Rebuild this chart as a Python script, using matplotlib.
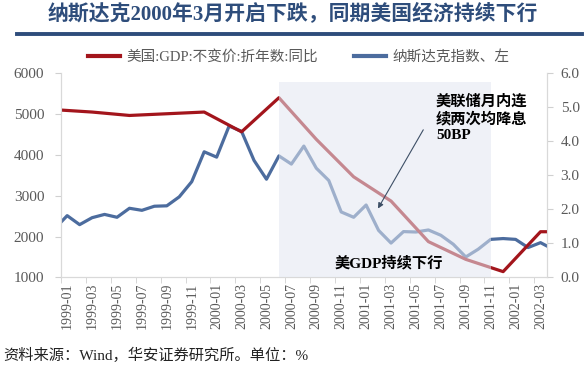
import matplotlib
matplotlib.use('Agg')
import matplotlib.pyplot as plt
from matplotlib.lines import Line2D

FONTS = ['Liberation Serif', 'Noto Sans CJK SC', 'DejaVu Sans']
plt.rcParams['font.family'] = FONTS

# monthly Nasdaq closes (left axis), 1998-12 .. 2002-04 (ends are clipped at the axes)
nasdaq_months = ['1998-12',
                 '1999-01', '1999-02', '1999-03', '1999-04', '1999-05', '1999-06',
                 '1999-07', '1999-08', '1999-09', '1999-10', '1999-11', '1999-12',
                 '2000-01', '2000-02', '2000-03', '2000-04', '2000-05', '2000-06',
                 '2000-07', '2000-08', '2000-09', '2000-10', '2000-11', '2000-12',
                 '2001-01', '2001-02', '2001-03', '2001-04', '2001-05', '2001-06',
                 '2001-07', '2001-08', '2001-09', '2001-10', '2001-11', '2001-12',
                 '2002-01', '2002-02', '2002-03', '2002-04']
nasdaq = [2190,
          2510, 2290, 2460, 2540, 2470, 2690, 2640, 2740, 2750, 2970, 3340, 4070,
          3940, 4700, 4570, 3860, 3400, 3970, 3770, 4210, 3670, 3370, 2600, 2470,
          2770, 2150, 1840, 2120, 2110, 2160, 2030, 1810, 1500, 1690, 1930, 1950,
          1930, 1730, 1850, 1690]

# US real GDP yoy, quarterly (right axis)
gdp_months = ['1998-12', '1999-03', '1999-06', '1999-09', '1999-12',
              '2000-03', '2000-06', '2000-09', '2000-12',
              '2001-03', '2001-06', '2001-09', '2001-12',
              '2002-03', '2002-04']
gdp = [4.92, 4.85, 4.75, 4.80, 4.85,
       4.27, 5.27, 4.05, 2.95,
       2.24, 1.05, 0.53, 0.17,
       1.34, 1.34]

tick_labels = ['1999-01', '1999-03', '1999-05', '1999-07', '1999-09', '1999-11',
               '2000-01', '2000-03', '2000-05', '2000-07', '2000-09', '2000-11',
               '2001-01', '2001-03', '2001-05', '2001-07', '2001-09', '2001-11',
               '2002-01', '2002-03']

shade_start, shade_end = '2000-06', '2001-11'


def month_pos(m):
    y, mo = m.split('-')
    return (int(y) - 1999) * 12 + int(mo) - 1


RED = '#a3151c'
BLUE = '#4c6c9e'
GRAY = '#595959'

fig = plt.figure(figsize=(5.86, 3.66), dpi=100)
ax = fig.add_axes([0.104, 0.242, 0.829, 0.559])
ax2 = ax.twinx()

ax.plot([month_pos(m) for m in nasdaq_months], nasdaq, color=BLUE, lw=2.3,
        solid_joinstyle='round')
ax2.plot([month_pos(m) for m in gdp_months], gdp, color=RED, lw=2.3,
         solid_joinstyle='round')

# shaded period drawn over the lines
ax2.axvspan(month_pos(shade_start), month_pos(shade_end), ymin=0, ymax=0.956,
            color='#e2e7f1', alpha=0.55, lw=0, zorder=5)

ax.set_xlim(-0.5, 38.5)
ax.set_ylim(1000, 6000)
ax2.set_ylim(0, 6)
ax.set_yticks(range(1000, 6001, 1000))
ax2.set_yticks([0, 1, 2, 3, 4, 5, 6])
ax2.set_yticklabels(['%.1f' % v for v in range(7)])

ax.set_xticks([month_pos(t) for t in tick_labels])
ax.set_xticklabels(tick_labels, rotation=90)
ax.set_xticks([x - 0.5 for x in range(0, 40, 2)], minor=True)
ax.tick_params(axis='x', which='major', length=0, pad=4, labelsize=10, labelcolor=GRAY)
ax.tick_params(axis='x', which='minor', length=4, color='#d0d0d0')
ax.tick_params(axis='y', length=4, pad=8, color='#d0d0d0', labelsize=11, labelcolor=GRAY)
ax2.tick_params(axis='y', length=4, pad=6, color='#d0d0d0', labelsize=11, labelcolor=GRAY)

for a in (ax, ax2):
    a.spines['top'].set_visible(False)
    for s in ('left', 'right', 'bottom'):
        a.spines[s].set_color('#d9d9d9')

# annotations
ax2.annotate('', xy=(24.84, 1.95), xytext=(28.7, 4.4),
             arrowprops=dict(arrowstyle='-|>', color='#3d4f66', lw=0.8,
                             mutation_scale=8), zorder=7)
ax2.text(29.6, 5.38, '美联储月内连\n续两次均降息\n50BP', fontsize=11, fontweight='bold',
         va='top', ha='left', linespacing=1.25, zorder=8)
ax2.text(21.5, 0.43, '美GDP持续下行', fontsize=11, fontweight='bold',
         va='center', ha='left', zorder=8)

# legend
handles = [Line2D([], [], color=RED, lw=3), Line2D([], [], color=BLUE, lw=3)]
fig.legend(handles, ['美国:GDP:不变价:折年数:同比', '纳斯达克指数、左'],
           loc='center', bbox_to_anchor=(0.51, 0.844), ncol=2, frameon=False,
           fontsize=10.5, labelcolor=GRAY, handlelength=2.2, columnspacing=2.5,
           handletextpad=0.4)

# title and bar
fig.text(0.5, 1 - 15 / 366, '纳斯达克2000年3月开启下跌，同期美国经济持续下行',
         ha='center', va='center', fontsize=15, fontweight='bold', color='#2e4d7b')
fig.add_artist(Line2D([17 / 586, 582 / 586], [1 - 34 / 366, 1 - 34 / 366],
                      transform=fig.transFigure, color='#2e4d7b', lw=2.8))

fig.text(3 / 586, 1 - 355 / 366, '资料来源：Wind，华安证券研究所。单位：%',
         ha='left', va='center', fontsize=11, color='#222222')

fig.savefig('out.png', dpi=100, facecolor='white')
